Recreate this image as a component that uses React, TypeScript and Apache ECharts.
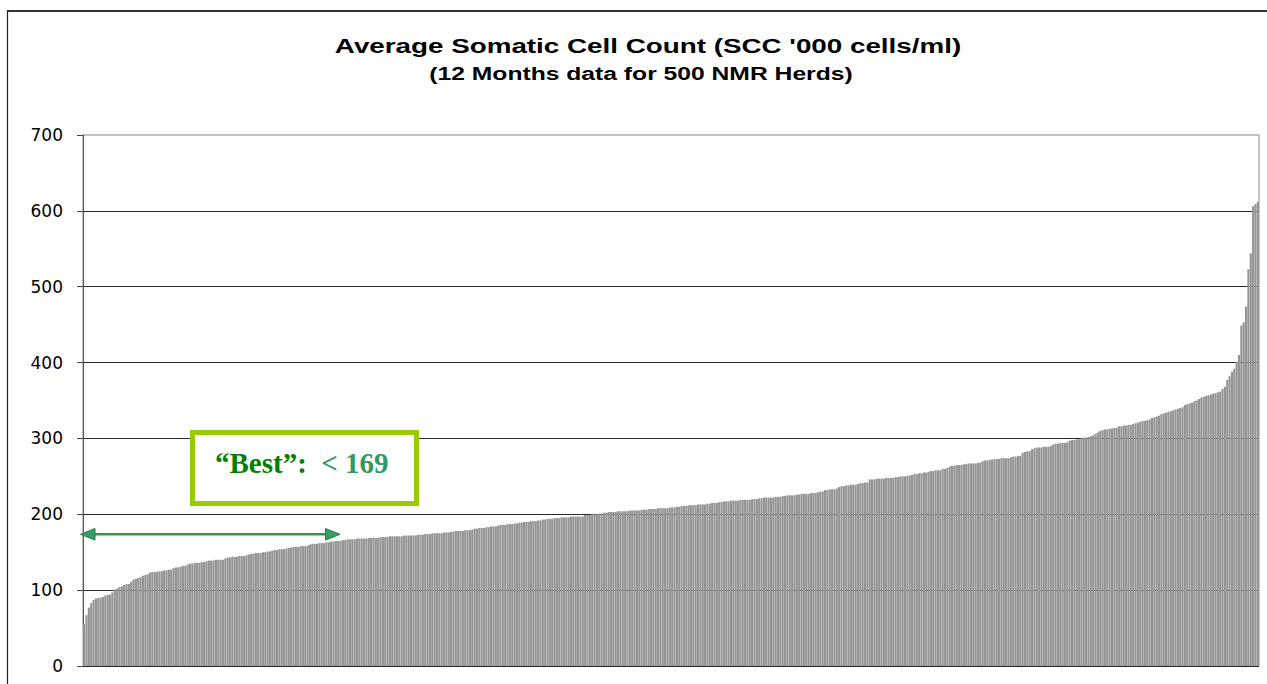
import React, { useEffect, useRef } from "react";
import * as echarts from "echarts";

// Sorted average SCC ('000 cells/ml) for 500 herds
const sccLowEnd = [
  55, 67, 77, 83, 87, 89, 90, 90, 91, 93, 94, 94, 97, 101, 102, 104, 105, 107, 108, 108,
  111, 114, 115, 116, 117, 119, 120, 121, 123, 124, 124, 124, 125, 125, 126, 126, 127, 127, 129, 130,
  130, 131, 132, 132, 134, 135, 135, 136, 136, 136, 137, 137, 138, 139, 139, 139, 140, 140, 140, 140,
  142, 143, 143, 144, 144, 144, 145, 145, 145, 146, 147, 148, 148, 149, 149, 149, 150, 150, 151, 151,
  152, 153, 153, 154, 154, 154, 155, 156, 156, 157, 157, 157, 158, 158, 158, 159, 160, 161, 161, 161,
  162, 162, 162, 163, 163, 164, 164, 165, 165, 165,
];
const sccLowerMid = [
  166, 166, 167, 167, 167, 167, 168, 168, 168, 168, 168, 169, 169, 169, 169, 169,
  170, 170, 170, 170, 171, 171, 171, 171, 171, 171, 172, 172, 172, 172, 172, 172, 173, 173, 173,
  174, 174, 174, 175, 175, 175, 175, 175, 176, 176, 176,
  177, 177, 178, 178, 178, 178, 179, 179, 179,
  180, 181, 181, 182, 182, 182, 183, 183, 184, 184, 184,
  185, 186, 186, 186, 187, 187, 187, 188, 188,
  189, 189, 190, 190, 190, 191, 191, 191,
  192, 192, 193, 193, 194, 194, 194, 195, 195, 195, 196,
  196, 196, 196, 197, 197, 197, 197, 197, 197,
  199, 199, 199, 200, 200, 200, 201, 201,
  202, 202, 203, 203, 203, 203, 204, 204, 204,
  204, 204, 205, 205, 205, 205, 205, 206,
  206, 206, 207, 207, 207, 207, 208, 208, 208, 208, 208, 209, 209, 209, 210,
  210, 211, 211, 211, 212, 212, 212, 212, 213, 213, 213, 213, 214, 214,
];
const sccUpperMid = [
  215, 215, 215, 216, 216, 217, 217, 217, 218, 218, 218,
  218, 219, 219, 219, 219, 219, 220, 220, 220, 221, 221,
  222, 222, 222, 222, 222, 223, 223, 223, 224, 224, 225, 225, 225, 225, 226, 226,
  227, 227, 227, 227, 228, 228, 228, 229, 230, 230,
  232, 232, 233, 233, 233, 234, 236, 237, 237, 238, 238, 239, 239, 239,
  240, 241, 241, 242, 242,
  246, 246, 246, 247, 247, 247, 247, 248, 248, 248, 248, 249,
  249, 250, 250, 250, 251, 251, 252, 253, 253, 254, 254, 255, 255,
  256, 257, 257, 258, 258, 258, 260, 260, 261,
  263, 264, 264, 265, 265, 265, 266, 266, 267, 267, 267, 267, 268, 268,
  270, 271, 271, 272, 272, 273, 273, 273, 274, 274, 274, 274, 275,
  276, 276, 277, 277, 281, 282, 283, 283,
  286, 287, 288, 288, 288, 289, 289, 289, 290,
  292, 293, 293, 294, 294, 294, 295, 297, 298, 298, 299, 299,
];
const sccHighEnd = [
  300, 301, 301, 302, 303, 304, 306, 308, 310,
  311, 312, 312, 313, 313, 314, 314, 316, 316, 317, 317, 318, 318, 319,
  320, 321, 322, 323, 323, 324, 325, 327, 328, 329, 330,
  332, 333, 334, 335, 336, 337, 338, 339, 340, 341,
  344, 345, 346, 347, 349, 350, 352,
  354, 355, 356, 357, 358, 359, 360, 361, 362, 365, 368, 377, 382, 388, 392,
  401, 410, 449, 453, 474, 523, 544, 606, 609, 612,
];
const sccValues = [...sccLowEnd, ...sccLowerMid, ...sccUpperMid, ...sccHighEnd];
const herdRanks = sccValues.map((_, i) => String(i + 1));

const yTicks = { min: 0, max: 700, interval: 100 };
const titleText = "Average Somatic Cell Count (SCC '000 cells/ml)";
const subtitleText = "(12 Months data for 500 NMR Herds)";
const bestLabel = "“Best”:";
const bestValue = "< 169";

export default function App() {
  const ref = useRef<HTMLDivElement>(null);
  useEffect(() => {
    const chart = echarts.init(ref.current!, null, { renderer: "svg" });
    chart.setOption({
      animation: false,
      backgroundColor: "#ffffff",
      grid: {
        left: 83,
        right: 8,
        top: 135,
        bottom: 18,
        show: true,
        borderColor: "#8a8a8a",
        borderWidth: 1,
        backgroundColor: "transparent",
      },
      xAxis: {
        type: "category",
        data: herdRanks,
        axisLine: { show: false },
        axisTick: { show: false },
        axisLabel: { show: false },
        splitLine: { show: false },
      },
      yAxis: {
        type: "value",
        min: yTicks.min,
        max: yTicks.max,
        interval: yTicks.interval,
        axisLine: { show: true, lineStyle: { color: "#555", width: 1 } },
        axisTick: { show: true, length: 6, lineStyle: { color: "#444" } },
        axisLabel: {
          color: "#000",
          fontSize: 17,
          fontFamily: "DejaVu Sans",
          margin: 20,
        },
        splitLine: {
          show: true,
          showMaxLine: false,
          lineStyle: { color: "#2a2a2a", width: 1 },
        },
      },
      series: [
        {
          type: "bar",
          data: sccValues,
          barCategoryGap: "8%",
          itemStyle: { color: "#959595" },
          emphasis: { disabled: true },
        },
      ],
      graphic: [
        {
          type: "line",
          z: 100,
          shape: { x1: 7, y1: 11, x2: 1267, y2: 11 },
          style: { stroke: "#333", lineWidth: 2 },
        },
        {
          type: "line",
          z: 100,
          shape: { x1: 7.5, y1: 10, x2: 7.5, y2: 684 },
          style: { stroke: "#222", lineWidth: 1.2 },
        },
        {
          type: "text",
          z: 100,
          x: 648,
          y: 46,
          scaleX: 1.39,
          style: {
            text: titleText,
            fill: "#000",
            font: "bold 20px 'Liberation Sans', Arial, sans-serif",
            textAlign: "center",
            textVerticalAlign: "middle",
          },
        },
        {
          type: "text",
          z: 100,
          x: 641,
          y: 74,
          scaleX: 1.41,
          style: {
            text: subtitleText,
            fill: "#000",
            font: "bold 17.5px 'Liberation Sans', Arial, sans-serif",
            textAlign: "center",
            textVerticalAlign: "middle",
          },
        },
        {
          type: "rect",
          z: 100,
          shape: { x: 192.5, y: 432.5, width: 224, height: 71 },
          style: { fill: "#ffffff", stroke: "#99cc00", lineWidth: 5 },
        },
        {
          type: "text",
          z: 101,
          x: 215,
          y: 463,
          style: {
            text: `{a|${bestLabel}}{a|  }{b|${bestValue}}`,
            textAlign: "left",
            textVerticalAlign: "middle",
            rich: {
              a: {
                fill: "#008000",
                fontFamily: "'Liberation Serif', 'Times New Roman', serif",
                fontWeight: "bold",
                fontSize: 29,
              },
              b: {
                fill: "#339966",
                fontFamily: "'Liberation Serif', 'Times New Roman', serif",
                fontWeight: "bold",
                fontSize: 29,
              },
            },
          },
        },
        {
          type: "line",
          z: 100,
          shape: { x1: 92, y1: 534.3, x2: 328, y2: 534.3 },
          style: { stroke: "#2e9a40", lineWidth: 2.5 },
        },
        {
          type: "polygon",
          z: 101,
          shape: { points: [[80.5, 534.3], [95, 528.5], [95, 540.1]] },
          style: { fill: "#3a9a68", stroke: "#23803a", lineWidth: 1 },
        },
        {
          type: "polygon",
          z: 101,
          shape: { points: [[340, 534.3], [325.5, 528.5], [325.5, 540.1]] },
          style: { fill: "#3a9a68", stroke: "#23803a", lineWidth: 1 },
        },
      ],
    });
    return () => chart.dispose();
  }, []);
  return (
    <div
      ref={ref}
      style={{ position: "fixed", left: 0, top: 0, width: 1267, height: 684, background: "#fff" }}
    />
  );
}
